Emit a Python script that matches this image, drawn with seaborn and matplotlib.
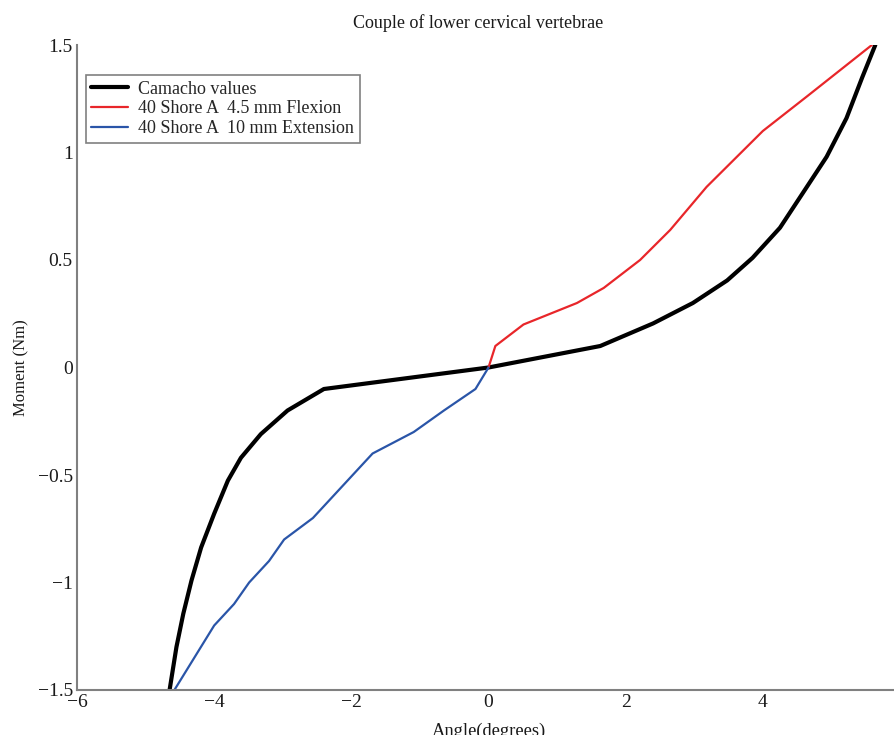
import numpy as np
import pandas as pd
import matplotlib
matplotlib.use("Agg")
import matplotlib.pyplot as plt
from matplotlib.ticker import FuncFormatter
import seaborn as sns

# Data
camacho_x = [-4.65, -4.55, -4.45, -4.33, -4.19, -4.0, -3.80, -3.61, -3.32, -2.93, -2.40, 0.0,
             1.63, 2.40, 2.98, 3.48, 3.85, 4.25, 4.58, 4.93, 5.22, 5.45, 5.64]
camacho_y = [-1.5, -1.3, -1.145, -0.99, -0.837, -0.68, -0.526, -0.42, -0.31, -0.2, -0.1, 0.0,
             0.10, 0.205, 0.30, 0.405, 0.51, 0.65, 0.81, 0.98, 1.16, 1.35, 1.5]

flex_x = [0.0, 0.1, 0.51, 1.29, 1.68, 2.21, 2.65, 3.18, 4.0, 4.64, 5.59]
flex_y = [0.0, 0.1, 0.20, 0.30, 0.37, 0.50, 0.64, 0.84, 1.10, 1.26, 1.5]

ext_x = [-4.58, -4.0, -3.71, -3.49, -3.2, -2.98, -2.56, -1.69, -1.09, -0.65, -0.19, 0.0]
ext_y = [-1.5, -1.2, -1.1, -1.0, -0.9, -0.8, -0.7, -0.4, -0.3, -0.2, -0.1, 0.0]

labels = ["Camacho values", "40 Shore A  4.5 mm Flexion", "40 Shore A  10 mm Extension"]
colors = ["#000000", "#e8262a", "#2a55a8"]
widths = [3.0, 1.6, 1.6]

x_ticks = [-6, -4, -2, 0, 2, 4, 6]
y_ticks = [-1.5, -1, -0.5, 0, 0.5, 1, 1.5]

sns.set_style("white")
plt.rcParams["font.family"] = ["Liberation Serif", "DejaVu Serif"]
plt.rcParams["axes.unicode_minus"] = True

fig = plt.figure(figsize=(8.95, 7.35), dpi=100)
ax = fig.add_axes([77 / 895, 45 / 735, 823 / 895, 645 / 735])

series = [(camacho_x, camacho_y), (flex_x, flex_y), (ext_x, ext_y)]
for (xs, ys), lab, col, lw in zip(series, labels, colors, widths):
    df = pd.DataFrame({"x": xs, "y": ys})
    sns.lineplot(data=df, x="x", y="y", sort=False, estimator=None,
                 color=col, linewidth=lw, label=lab, ax=ax)

ax.set_xlim(-6, 6)
ax.set_ylim(-1.5, 1.5)
ax.set_xticks(x_ticks)
ax.set_yticks(y_ticks)
fmt = FuncFormatter(lambda v, p: f"{v:g}".replace("-", "\u2212"))
ax.xaxis.set_major_formatter(fmt)
ax.yaxis.set_major_formatter(fmt)

for s in ["top", "right"]:
    ax.spines[s].set_visible(False)
for s in ["left", "bottom"]:
    ax.spines[s].set_color("#808080")
    ax.spines[s].set_linewidth(1.5)
ax.tick_params(direction="in", length=5, width=1, colors="#808080",
               labelcolor="#1a1a1a", labelsize=14, pad=3)

ax.set_title("Couple of lower cervical vertebrae", fontsize=13, color="#1a1a1a",
             pad=12, x=0.487)
ax.set_xlabel("Angle(degrees)", fontsize=13.3, color="#1a1a1a", labelpad=8)
ax.xaxis.set_label_coords(0.495, -0.035, transform=None) if False else None
ax.set_ylabel("Moment (Nm)", fontsize=12, color="#1a1a1a", labelpad=6)

leg = ax.legend(loc="upper left", bbox_to_anchor=(0.011, 0.953), borderaxespad=0,
                fontsize=13, frameon=True, fancybox=False, framealpha=1,
                edgecolor="#808080", handlelength=2.0, labelspacing=0.15,
                borderpad=0.3, handletextpad=0.6)
leg.get_frame().set_linewidth(1.2)

fig.savefig("out.png", dpi=100)
